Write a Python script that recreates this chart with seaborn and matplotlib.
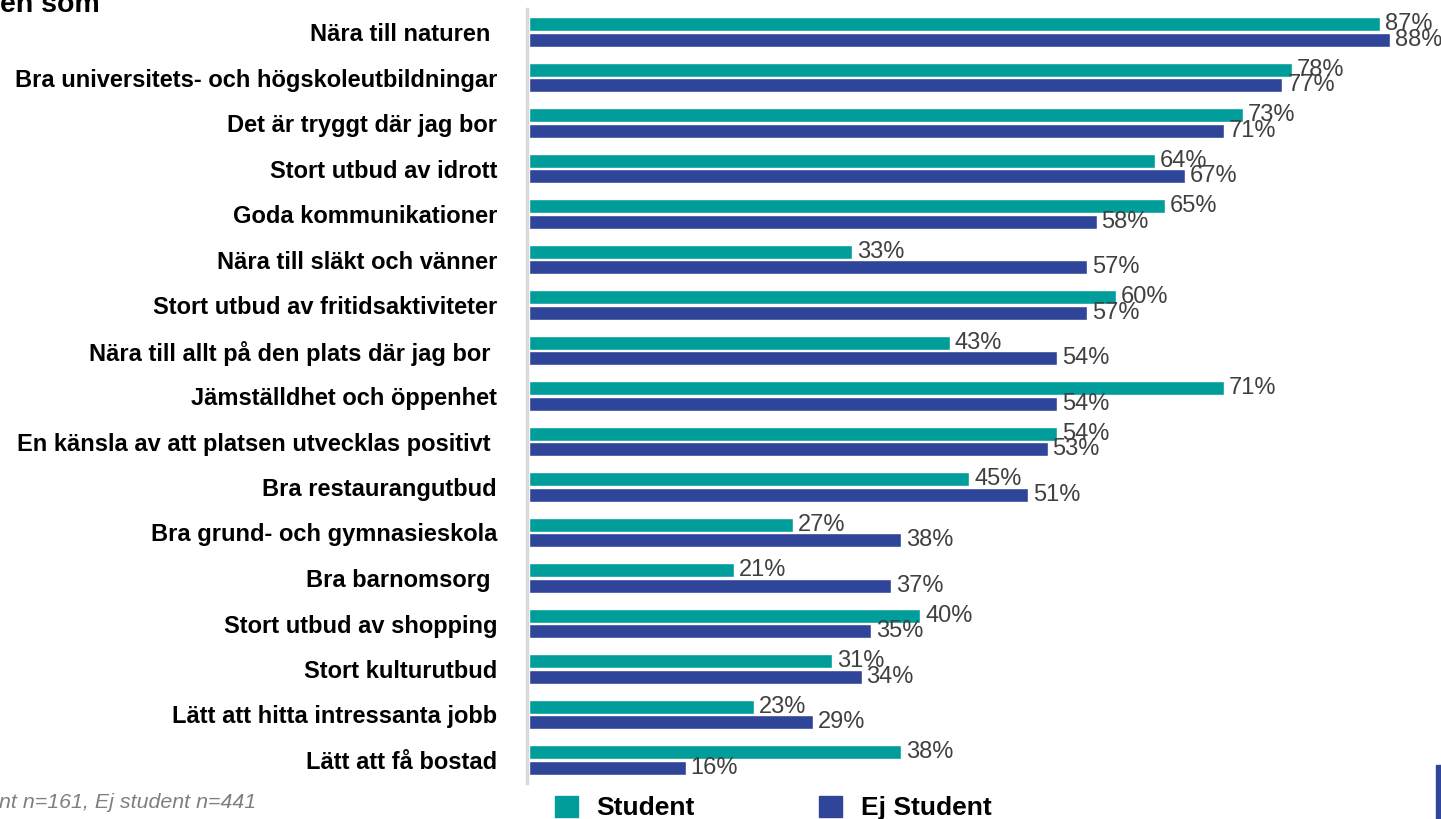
import pandas as pd
import matplotlib.pyplot as plt
import seaborn as sns
from matplotlib.patches import Patch, Rectangle

categories = [
    'Nära till naturen ',
    'Bra universitets- och högskoleutbildningar',
    'Det är tryggt där jag bor',
    'Stort utbud av idrott',
    'Goda kommunikationer',
    'Nära till släkt och vänner',
    'Stort utbud av fritidsaktiviteter',
    'Nära till allt på den plats där jag bor ',
    'Jämställdhet och öppenhet',
    'En känsla av att platsen utvecklas positivt ',
    'Bra restaurangutbud',
    'Bra grund- och gymnasieskola',
    'Bra barnomsorg ',
    'Stort utbud av shopping',
    'Stort kulturutbud',
    'Lätt att hitta intressanta jobb',
    'Lätt att få bostad',
]
student = [87, 78, 73, 64, 65, 33, 60, 43, 71, 54, 45, 27, 21, 40, 31, 23, 38]
ej_student = [88, 77, 71, 67, 58, 57, 57, 54, 54, 53, 51, 38, 37, 35, 34, 29, 16]
groups = ['Student', 'Ej Student']
colors = ['#009D9A', '#2F4599']

df = pd.DataFrame({
    'Kategori': categories * 2,
    'Andel': student + ej_student,
    'Grupp': ['Student'] * len(categories) + ['Ej Student'] * len(categories),
})

sns.set_theme(style="white")
plt.rcParams['font.family'] = ['Liberation Sans', 'DejaVu Sans']

W, H = 1441, 819
fig = plt.figure(figsize=(W / 100, H / 100), dpi=100)
ax = fig.add_axes([527 / W, 1 - 782.75 / H, (W - 527) / W, 773.5 / H])

sns.barplot(
    data=df, y='Kategori', x='Andel', hue='Grupp',
    order=categories, hue_order=groups, palette=colors,
    orient='h', width=0.7, gap=0.12, saturation=1, ax=ax, legend=False,
)

for cont in ax.containers:
    ax.bar_label(cont, labels=[f'{v:.0f}%' for v in cont.datavalues],
                 padding=3.5, fontsize=17, color='#404040')

ax.set_xlim(-0.2, 93.2)
ax.set_xlabel('')
ax.set_ylabel('')
ax.set_xticks([])
ax.tick_params(axis='y', length=0, pad=21.6, labelsize=17)
for lbl in ax.get_yticklabels():
    lbl.set_fontweight('bold')
    lbl.set_color('black')
for s in ['top', 'right', 'bottom']:
    ax.spines[s].set_visible(False)
ax.spines['left'].set_color('#D9D9D9')
ax.spines['left'].set_linewidth(2.5)

fig.text(0.0, 1 - 12 / H, 'en som', fontsize=20.5, fontweight='bold',
         color='black', va='baseline')
fig.text(-0.001, 1 - 808 / H, 'nt n=161, Ej student n=441', fontsize=15.4,
         style='italic', color='#7F7F7F', va='baseline')

handles = [Patch(color=c) for c in colors]
fig.legend(handles, groups, loc='center left', bbox_to_anchor=(544 / W, 1 - 808 / H),
           ncol=2, frameon=False, prop={'weight': 'bold', 'size': 19},
           labelcolor='black', handlelength=0.87, handleheight=0.87,
           handletextpad=0.72, columnspacing=4.7, borderaxespad=0)

fig.add_artist(Rectangle((1436 / W, 0), 10 / W, 54 / H, transform=fig.transFigure,
                         color='#2F4599', clip_on=False))

fig.savefig('out.png', dpi=100)
